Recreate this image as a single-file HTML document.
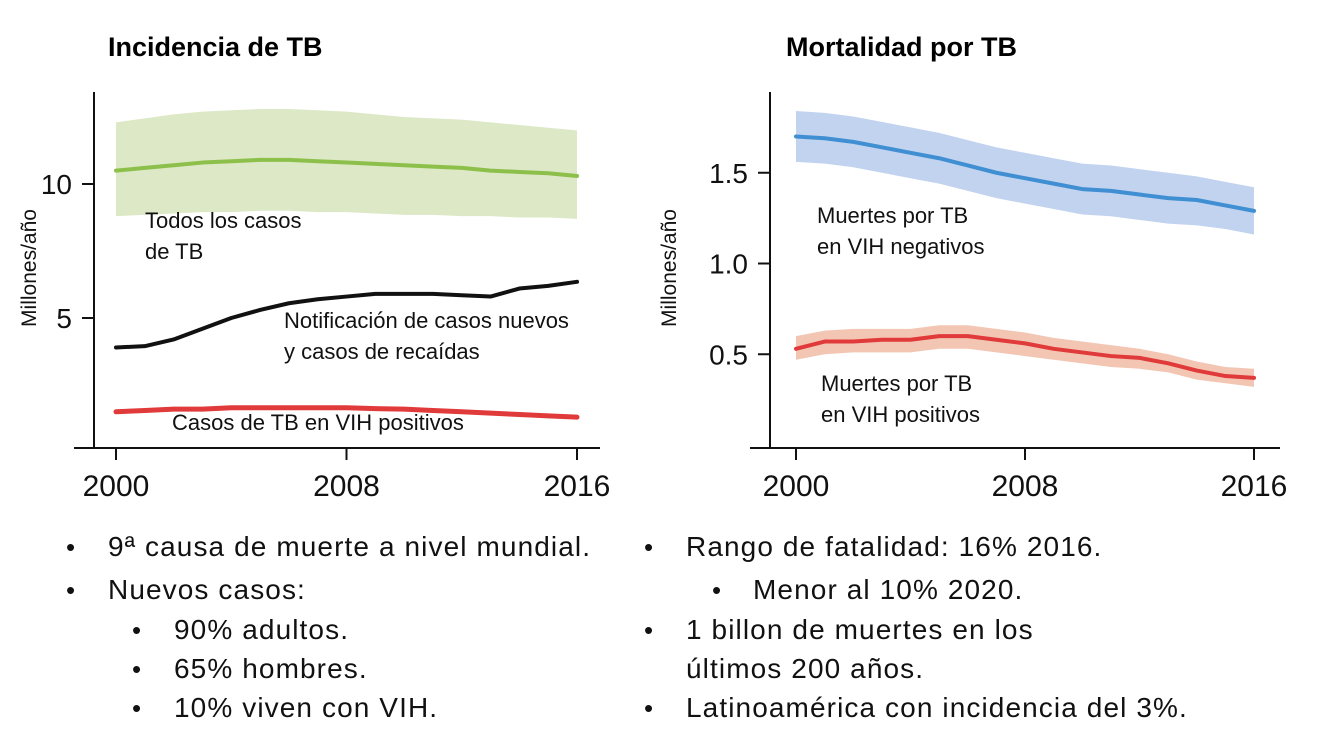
<!DOCTYPE html>
<html><head><meta charset="utf-8"><style>
body{margin:0;background:#fff;width:1334px;height:743px;overflow:hidden;font-family:"Liberation Sans",sans-serif}
svg{position:absolute;left:0;top:0}
.bl{position:absolute;font-size:28px;letter-spacing:1.1px;color:#111;line-height:1;white-space:nowrap}
.dot{position:absolute;font-size:26px;color:#111;line-height:1}
</style></head><body>
<svg width="1334" height="743" id="s">
<text x="108" y="56" font-size="27" font-weight="bold">Incidencia de TB</text>
<text x="786" y="56" font-size="27" font-weight="bold">Mortalidad por TB</text>
<g id="L"></g><g id="R"></g>
</svg>
<div class="dot" style="left:66px;top:534px">•</div><div class="bl" style="left:108px;top:533px">9ª causa de muerte a nivel mundial.</div>
<div class="dot" style="left:66px;top:577px">•</div><div class="bl" style="left:108px;top:576px">Nuevos casos:</div>
<div class="dot" style="left:132px;top:617px">•</div><div class="bl" style="left:174px;top:616px">90% adultos.</div>
<div class="dot" style="left:132px;top:656px">•</div><div class="bl" style="left:174px;top:655px">65% hombres.</div>
<div class="dot" style="left:132px;top:695px">•</div><div class="bl" style="left:174px;top:694px">10% viven con VIH.</div>
<div class="dot" style="left:644px;top:534px">•</div><div class="bl" style="left:686px;top:533px">Rango de fatalidad: 16% 2016.</div>
<div class="dot" style="left:712px;top:577px">•</div><div class="bl" style="left:753px;top:576px">Menor al 10% 2020.</div>
<div class="dot" style="left:644px;top:617px">•</div><div class="bl" style="left:686px;top:616px">1 billon de muertes en los</div>
<div class="bl" style="left:686px;top:655px">últimos 200 años.</div>
<div class="dot" style="left:644px;top:695px">•</div><div class="bl" style="left:686px;top:694px">Latinoamérica con incidencia del 3%.</div>
<script>
const years=[2000,2001,2002,2003,2004,2005,2006,2007,2008,2009,2010,2011,2012,2013,2014,2015,2016];
const allTb=[10.5,10.6,10.7,10.8,10.85,10.9,10.9,10.85,10.8,10.75,10.7,10.65,10.6,10.5,10.45,10.4,10.3];
const allTbHi=[12.3,12.45,12.6,12.7,12.75,12.8,12.8,12.75,12.7,12.6,12.5,12.45,12.4,12.3,12.2,12.1,12.0];
const allTbLo=[8.8,8.85,8.9,8.95,8.95,9.0,9.0,8.95,8.95,8.9,8.85,8.85,8.8,8.8,8.75,8.75,8.7];
const notif=[3.9,3.95,4.2,4.6,5.0,5.3,5.55,5.7,5.8,5.9,5.9,5.9,5.85,5.8,6.1,6.2,6.35];
const hivPos=[1.5,1.55,1.6,1.6,1.65,1.65,1.65,1.65,1.65,1.62,1.6,1.55,1.5,1.45,1.4,1.35,1.3];
const yTicksL=[5,10];
const deathNeg=[1.70,1.69,1.67,1.64,1.61,1.58,1.54,1.50,1.47,1.44,1.41,1.40,1.38,1.36,1.35,1.32,1.29];
const deathNegHi=[1.84,1.83,1.81,1.78,1.75,1.72,1.68,1.64,1.61,1.58,1.55,1.54,1.52,1.50,1.48,1.45,1.42];
const deathNegLo=[1.56,1.55,1.53,1.50,1.47,1.44,1.40,1.36,1.33,1.30,1.27,1.26,1.24,1.22,1.21,1.19,1.16];
const deathPos=[0.53,0.57,0.57,0.58,0.58,0.60,0.60,0.58,0.56,0.53,0.51,0.49,0.48,0.45,0.41,0.38,0.37];
const deathPosHi=[0.60,0.63,0.64,0.64,0.64,0.66,0.66,0.64,0.62,0.59,0.57,0.55,0.53,0.50,0.46,0.43,0.42];
const deathPosLo=[0.47,0.50,0.51,0.51,0.51,0.53,0.53,0.51,0.49,0.47,0.45,0.43,0.42,0.40,0.36,0.34,0.32];
const yTicksR=[0.5,1.0,1.5];
const xTicks=[2000,2008,2016];
const NS="http://www.w3.org/2000/svg";
function mk(p,t,a){const e=document.createElementNS(NS,t);for(const k in a)e.setAttribute(k,a[k]);p.appendChild(e);return e;}
function chart(g,ax,fx,fy,tickFmt,yTicks){
 mk(g,'line',{x1:ax.x0,y1:ax.top,x2:ax.x0,y2:ax.yb,stroke:'#111','stroke-width':2});
 mk(g,'line',{x1:ax.x0-20,y1:ax.yb,x2:ax.x1,y2:ax.yb,stroke:'#111','stroke-width':2});
 xTicks.forEach(t=>{mk(g,'line',{x1:fx(t),y1:ax.yb,x2:fx(t),y2:ax.yb+12,stroke:'#111','stroke-width':2});
  const tx=mk(g,'text',{x:fx(t),y:ax.yb+48,'font-size':30,'text-anchor':'middle',fill:'#111'});tx.textContent=t;
  
  });
 yTicks.forEach(t=>{mk(g,'line',{x1:ax.x0-12,y1:fy(t),x2:ax.x0,y2:fy(t),stroke:'#111','stroke-width':2});
  const tx=mk(g,'text',{x:ax.x0-22,y:fy(t)+10,'font-size':28,'text-anchor':'end',fill:'#111'});tx.textContent=tickFmt(t);
  
  });
}
function band(g,hi,lo,fx,fy,col,name){
 let d='M'+years.map((y,i)=>fx(y)+','+fy(hi[i])).join('L')+'L'+years.slice().reverse().map((y,j)=>fx(y)+','+fy(lo[lo.length-1-j])).join('L')+'Z';
 const p=mk(g,'path',{d:d,fill:col});
 
 
}
function line(g,v,fx,fy,col,w,name){
 const p=mk(g,'polyline',{points:years.map((y,i)=>fx(y)+','+fy(v[i])).join(' '),fill:'none',stroke:col,'stroke-width':w,'stroke-linejoin':'round','stroke-linecap':'round'});
 
 
}
function lbl(g,x,y,lines,name){const t=mk(g,'text',{x:x,y:y,'font-size':22,fill:'#111'});
 lines.forEach((s,i)=>{const ts=mk(t,'tspan',{x:x,dy:i?31:0});ts.textContent=s;});
 
 }
const L=document.getElementById('L');
const fxL=y=>116+(y-2000)*(577-116)/16, fyL=v=>452-v*26.8;
band(L,allTbHi,allTbLo,fxL,fyL,'#dce8c6','all-tb-band');
line(L,allTb,fxL,fyL,'#8cc04a',4,'all-tb-line');
line(L,notif,fxL,fyL,'#111',4,'notification-line');
line(L,hivPos,fxL,fyL,'#e03a3a',5,'hiv-positive-line');
chart(L,{x0:94,x1:600,top:92,yb:448},fxL,fyL,t=>t,yTicksL);
lbl(L,145,228,['Todos los casos','de TB'],'all-tb-label');
lbl(L,284,328,['Notificación de casos nuevos','y casos de recaídas'],'notification-label');
lbl(L,172,430,['Casos de TB en VIH positivos'],'hiv-positive-label');
const ytL=mk(L,'text',{transform:'translate(36,268) rotate(-90)','font-size':21,'text-anchor':'middle',fill:'#111'});ytL.textContent='Millones/año';


const R=document.getElementById('R');
const fxR=y=>796+(y-2000)*(1254-796)/16, fyR=v=>445-v*181.5;
band(R,deathNegHi,deathNegLo,fxR,fyR,'#c2d3ef','hiv-negative-band');
band(R,deathPosHi,deathPosLo,fxR,fyR,'#f3c6b4','hiv-positive-death-band');
line(R,deathNeg,fxR,fyR,'#3f8fd2',4,'hiv-negative-death-line');
line(R,deathPos,fxR,fyR,'#e03a3a',4,'hiv-positive-death-line');
chart(R,{x0:770,x1:1280,top:92,yb:448},fxR,fyR,t=>t.toFixed(1),yTicksR);
lbl(R,817,223,['Muertes por TB','en VIH negativos'],'hiv-negative-label');
lbl(R,821,391,['Muertes por TB','en VIH positivos'],'hiv-positive-death-label');
const ytR=mk(R,'text',{transform:'translate(676,268) rotate(-90)','font-size':21,'text-anchor':'middle',fill:'#111'});ytR.textContent='Millones/año';


</script>
</body></html>
